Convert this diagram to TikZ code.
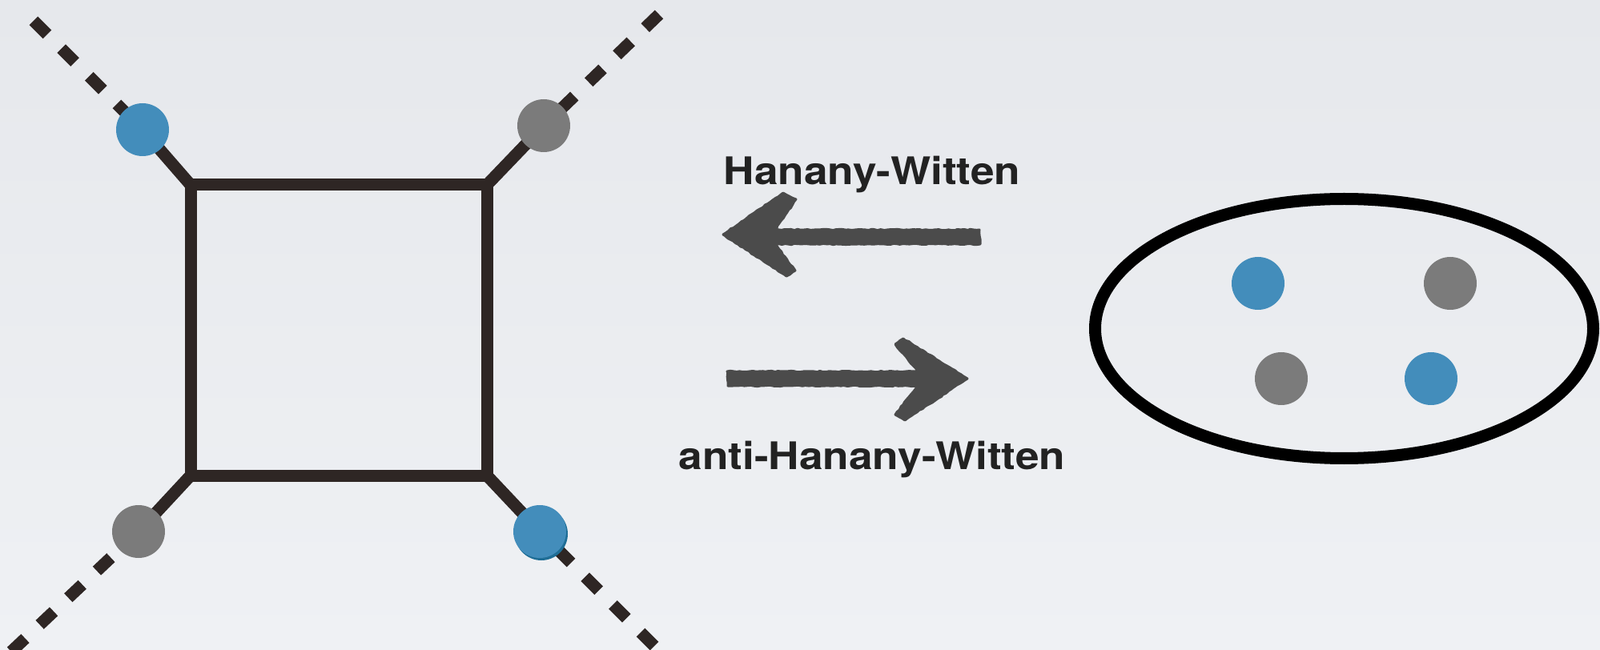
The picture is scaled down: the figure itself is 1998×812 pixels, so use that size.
\documentclass[tikz,border=0pt]{standalone}
\usepackage{fontspec}
\usepackage{graphicx}
\usetikzlibrary{shapes.geometric,decorations.pathmorphing}
\newfontfamily\labfont{TeX Gyre Heros}
\definecolor{bgA}{HTML}{E6E8EC}
\definecolor{bgB}{HTML}{EFF1F4}
\definecolor{dotblue}{HTML}{438DBB}
\definecolor{dotshadow}{HTML}{1F6E96}
\definecolor{dotgray}{HTML}{7B7B7B}
\definecolor{linecol}{HTML}{2E2624}
\definecolor{arrowcol}{HTML}{4B4B4B}
\definecolor{textcol}{HTML}{222222}
\newcommand{\hwlabel}[1]{\scalebox{1.12}[1]{\labfont\bfseries\fontsize{23.75pt}{28pt}\selectfont #1}}
\begin{document}
\begin{tikzpicture}[x=0.5pt,y=-0.5pt,
  solidleg/.style={draw=linecol,line width=7.5pt},
  dashleg/.style={draw=linecol,line width=7.5pt,dash pattern=on 12pt off 12.5pt},
  sqside/.style={draw=linecol,line width=7.5pt,line join=miter},
  dotnode/.style={circle,inner sep=0pt,minimum size=33pt},
  bluedot/.style={dotnode,fill=dotblue},
  graydot/.style={dotnode,fill=dotgray},
  shadowdot/.style={dotnode,fill=dotshadow},
  chalk/.style={fill=arrowcol,draw=arrowcol,line width=1.5pt,line join=round,decorate,
    decoration={random steps,segment length=2pt,amplitude=0.35pt}},
  lab/.style={text=textcol,anchor=base,inner sep=0pt},
  ring/.style={ellipse,draw=black,line width=7.5pt,inner sep=0pt,minimum width=311pt,minimum height=162pt}]
% background
\shade[top color=bgA,bottom color=bgB] (0,0) rectangle (1998,812);
\useasboundingbox (0,0) rectangle (1998,812);
% square corners
\coordinate (c1) at (238,231);
\coordinate (c2) at (608,231);
\coordinate (c3) at (608,594);
\coordinate (c4) at (238,594);
% outer ends of dashed legs
\coordinate (e1) at (42,26);
\coordinate (e2) at (823,18);
\coordinate (e3) at (14,814);
\coordinate (e4) at (817,807);
% dot positions
\coordinate (p1) at (178,162);
\coordinate (p2) at (679,157);
\coordinate (p3) at (173,664);
\coordinate (p4) at (674,664);
% legs
\draw[solidleg] (c1) -- (p1);
\draw[solidleg] (c2) -- (p2);
\draw[solidleg] (c4) -- (p3);
\draw[solidleg] (c3) -- (p4);
\draw[dashleg] (e1) -- (p1);
\draw[dashleg] (e2) -- (p2);
\draw[dashleg] (e3) -- (p3);
\draw[dashleg] (e4) -- (p4);
% square
\draw[sqside] (c1) -- (c2) -- (c3) -- (c4) -- cycle;
% dots on legs
\node[bluedot] (d1) at (p1) {};
\node[graydot] (d2) at (p2) {};
\node[graydot] (d3) at (p3) {};
\node[shadowdot] (d4s) at (676,667) {};
\node[bluedot] (d4) at (p4) {};
% labels
\node[lab] (hw) at (1089,231) {\hwlabel{Hanany-Witten}};
\node[lab] (ahw) at (1089,587) {\hwlabel{anti-Hanany-Witten}};
% chalk arrows
\path[chalk] (903,293) -- (978,241) -- (994,249) -- (968,287)
  -- (1223,287) -- (1224,305) -- (968,305) -- (993,338) -- (982,345)
  -- cycle;
\path[chalk] (1208,473) -- (1130,525) -- (1118,518) -- (1146,482)
  -- (909,482) -- (908,464) -- (1146,464) -- (1118,430) -- (1128,423)
  -- cycle;
% ellipse with dots
\node[ring] (ring) at (1678.5,410.5) {};
\node[bluedot] (q1) at (1571,354) {};
\node[graydot] (q2) at (1811,354) {};
\node[graydot] (q3) at (1600,473) {};
\node[bluedot] (q4) at (1787,473) {};
\end{tikzpicture}
\end{document}
